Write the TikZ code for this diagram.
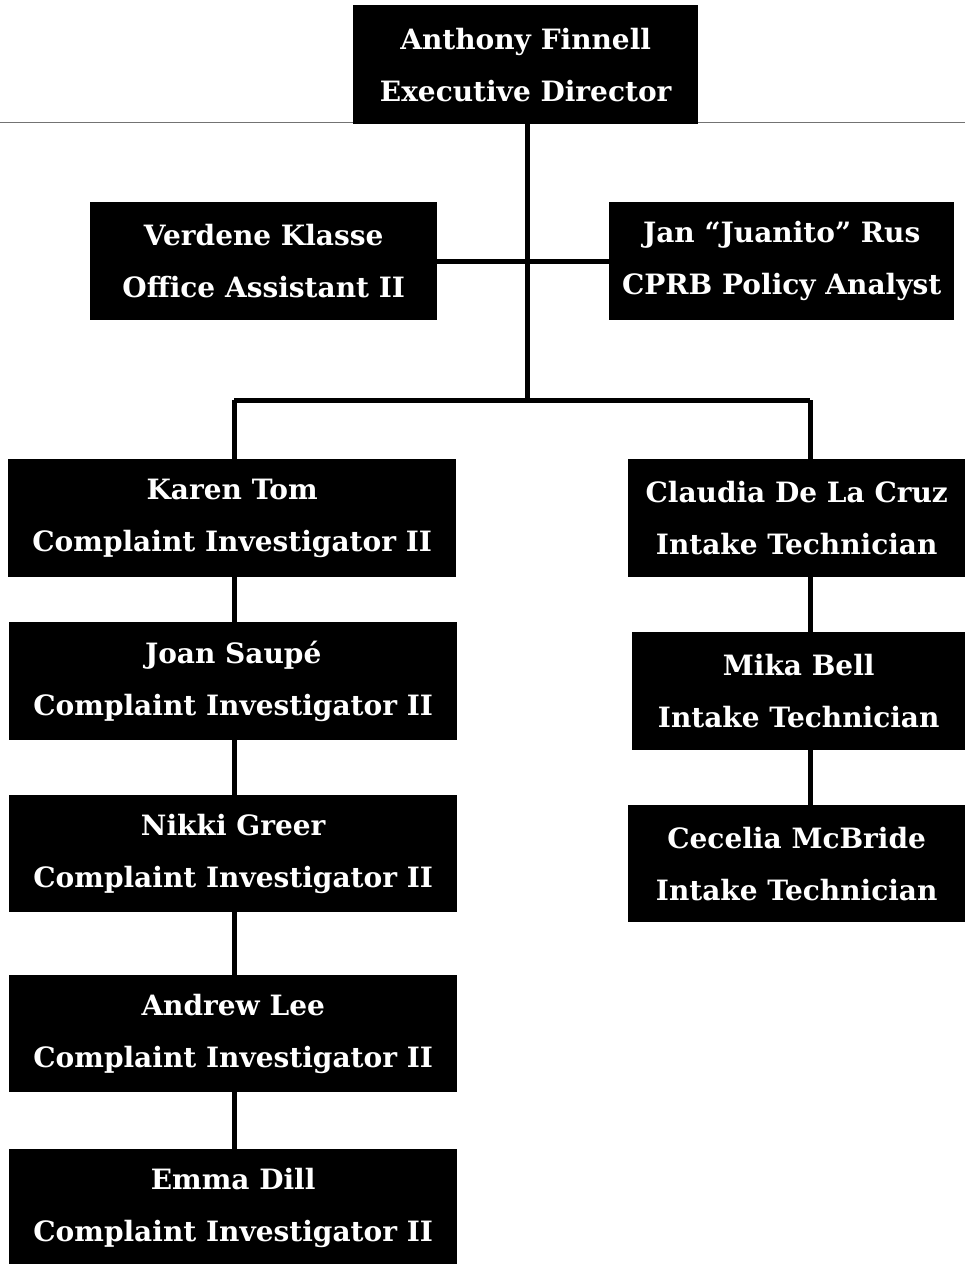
\documentclass[tikz,border=0pt]{standalone}
\usepackage{fontspec}
\setmainfont{DejaVu Serif}
\begin{document}
\begin{tikzpicture}[x=1pt,y=-1pt,
  box/.style={fill=black,draw=none,text=white,font=\bfseries\fontsize{28}{52}\selectfont,
    align=center,inner sep=0pt,anchor=north west},
  conn/.style={line width=5pt,draw=black},
  rule/.style={line width=0.8pt,draw=black!55}]
\useasboundingbox (0,0) rectangle (965,1264);
\coordinate (rl) at (0,122);
\coordinate (rr) at (965,122);
\draw[rule] (rl) -- (rr);
\node[box,minimum width=345pt,minimum height=119pt] (A) at (353,5) {Anthony Finnell\\Executive Director};
\node[box,minimum width=347pt,minimum height=118pt] (V) at (90,202) {Verdene Klasse\\Office Assistant II};
\node[box,minimum width=345pt,minimum height=118pt] (J) at (609,202) {Jan “Juanito” Rus\\CPRB Policy Analyst};
\node[box,minimum width=448pt,minimum height=118pt] (K) at (8,459) {Karen Tom\\Complaint Investigator II};
\node[box,minimum width=448pt,minimum height=118pt] (Jo) at (9,622) {Joan Saupé\\Complaint Investigator II};
\node[box,minimum width=448pt,minimum height=117pt] (N) at (9,795) {Nikki Greer\\Complaint Investigator II};
\node[box,minimum width=448pt,minimum height=117pt] (An) at (9,975) {Andrew Lee\\Complaint Investigator II};
\node[box,minimum width=448pt,minimum height=118pt] (E) at (9,1149) {Emma Dill\\Complaint Investigator II};
\node[box,minimum width=337pt,minimum height=118pt] (C) at (628,459) {Claudia De La Cruz\\Intake Technician};
\node[box,minimum width=333pt,minimum height=118pt] (M) at (632,632) {Mika Bell\\Intake Technician};
\node[box,minimum width=337pt,minimum height=117pt] (Ce) at (628,805) {Cecelia McBride\\Intake Technician};
\coordinate (bar) at (527,400);
\coordinate (bl) at (234,400);
\coordinate (br) at (810,400);
\draw[conn] (A.south -| bar) -- (bar);
\draw[conn] (V.east) -- (J.west);
\draw[conn] (bl) -- (br);
\draw[conn] (bl) -- (bl |- K.north);
\draw[conn] (br) -- (br |- C.north);
\draw[conn] (K.south -| bl) -- (bl |- Jo.north);
\draw[conn] (Jo.south -| bl) -- (bl |- N.north);
\draw[conn] (N.south -| bl) -- (bl |- An.north);
\draw[conn] (An.south -| bl) -- (bl |- E.north);
\draw[conn] (C.south -| br) -- (br |- M.north);
\draw[conn] (M.south -| br) -- (br |- Ce.north);
\end{tikzpicture}
\end{document}
